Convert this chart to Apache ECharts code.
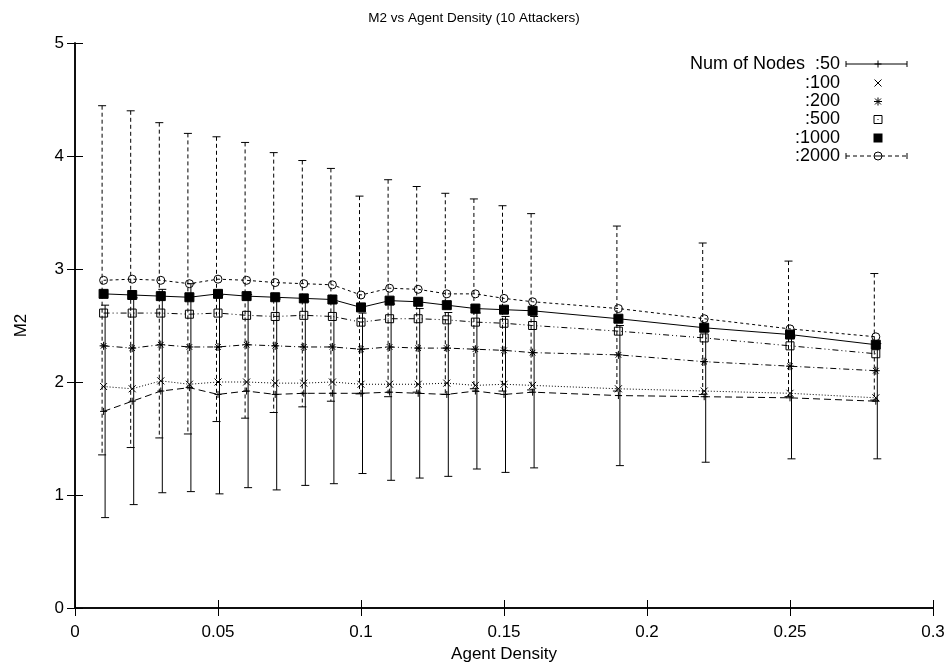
<!DOCTYPE html>
<html>
<head>
<meta charset="utf-8">
<script src="https://cdn.jsdelivr.net/npm/echarts@6/dist/echarts.min.js"></script>
<style>
html, body { margin: 0; padding: 0; background: #fff; }
#chart { width: 948px; height: 662px; }
</style>
</head>
<body>
<div id="chart"></div>
<script>
// agent density (x)
const density = [0.01, 0.02, 0.03, 0.04, 0.05, 0.06, 0.07, 0.08, 0.09, 0.10,
  0.11, 0.12, 0.13, 0.14, 0.15, 0.16, 0.19, 0.22, 0.25, 0.28]

// M2 per number of nodes
const nodes50 = [1.74, 1.83, 1.92, 1.95, 1.89, 1.92, 1.89, 1.90, 1.90, 1.90,
  1.91, 1.90, 1.89, 1.92, 1.89, 1.91, 1.88, 1.87, 1.86, 1.83]
const err50 = [0.94, 0.915, 0.90, 0.92, 0.88, 0.855, 0.845, 0.815, 0.80, 0.71,
  0.78, 0.75, 0.725, 0.69, 0.69, 0.67, 0.62, 0.58, 0.54, 0.51]
const nodes100 = [1.96, 1.94, 2.01, 1.98, 2.00, 2.00, 1.99, 1.99, 2.00, 1.98,
  1.98, 1.98, 1.99, 1.97, 1.98, 1.97, 1.94, 1.92, 1.90, 1.86]
const nodes200 = [2.32, 2.30, 2.33, 2.31, 2.31, 2.33, 2.32, 2.31, 2.31, 2.29,
  2.31, 2.30, 2.30, 2.29, 2.28, 2.26, 2.24, 2.18, 2.14, 2.10]
const nodes500 = [2.61, 2.61, 2.61, 2.60, 2.61, 2.59, 2.58, 2.59, 2.58, 2.53,
  2.56, 2.56, 2.55, 2.53, 2.52, 2.50, 2.45, 2.39, 2.32, 2.25]
const nodes1000 = [2.78, 2.77, 2.76, 2.75, 2.78, 2.76, 2.75, 2.74, 2.73, 2.66,
  2.72, 2.71, 2.68, 2.65, 2.64, 2.63, 2.56, 2.48, 2.42, 2.33]
const nodes2000 = [2.90, 2.91, 2.90, 2.87, 2.91, 2.90, 2.88, 2.87, 2.86, 2.77,
  2.83, 2.82, 2.78, 2.78, 2.74, 2.71, 2.65, 2.56, 2.47, 2.40]
const err2000 = [1.545, 1.49, 1.395, 1.33, 1.26, 1.22, 1.15, 1.09, 1.03, 0.875,
  0.96, 0.91, 0.89, 0.84, 0.82, 0.78, 0.73, 0.67, 0.60, 0.56]

const xTicks = { min: 0, max: 0.3, interval: 0.05 }
const yTicks = { min: 0, max: 5, interval: 1 }

const FONT = "'Liberation Sans', Arial, sans-serif"
const BLACK = '#000'

const chart = echarts.init(document.getElementById('chart'))

const pts = (arr) => density.map((x, i) => [x, arr[i]])
const withErr = (arr, err) => density.map((x, i) => [x, arr[i], err[i]])

// 点的形状
const PLUS = 'path://M0,5L10,5M5,0L5,10'
const CROSS = 'path://M0,0L10,10M10,0L0,10'
const STAR = 'path://M0,5L10,5M5,0L5,10M1.5,1.5L8.5,8.5M8.5,1.5L1.5,8.5'

function errBars(offset, dash) {
  return function (params, api) {
    const x = api.value(0)
    const y = api.value(1)
    const e = api.value(2)
    const hi = api.coord([x, y + e])
    const lo = api.coord([x, y - e])
    const px = hi[0] + offset
    const w = 4
    return {
      type: 'group',
      children: [
        { type: 'line', shape: { x1: px, y1: hi[1], x2: px, y2: lo[1] },
          style: { stroke: BLACK, lineWidth: 1, lineDash: dash } },
        { type: 'line', shape: { x1: px - w, y1: hi[1], x2: px + w, y2: hi[1] },
          style: { stroke: BLACK, lineWidth: 1 } },
        { type: 'line', shape: { x1: px - w, y1: lo[1], x2: px + w, y2: lo[1] },
          style: { stroke: BLACK, lineWidth: 1 } }
      ]
    }
  }
}

function lineSeries(name, data, dash, symbol, size, fill) {
  return {
    name,
    type: 'line',
    data: pts(data),
    symbol,
    symbolSize: size,
    showAllSymbol: true,
    lineStyle: { color: BLACK, width: 1, type: dash },
    itemStyle: { color: fill, borderColor: BLACK, borderWidth: 1 },
    emphasis: { disabled: true },
    z: 3
  }
}

const axisLine = { show: true, lineStyle: { color: BLACK, width: 1.5 } }
const axisTick = { show: true, inside: true, length: 8, lineStyle: { color: BLACK, width: 1 } }

// legend (gnuplot style, inside top right)
const legendX = 840
const sampleX = 878
const legendRows = [64, 83, 101.5, 119.5, 138, 156]
const legendText = ['Num of Nodes  :50', ':100', ':200', ':500', ':1000', ':2000']
const legend = legendText.map((t, i) => ({
  type: 'text',
  x: legendX,
  y: legendRows[i],
  style: { text: t, font: '18px ' + FONT, fill: BLACK, align: 'right', verticalAlign: 'middle' }
}))
const ls = { stroke: BLACK, lineWidth: 1 }
legend.push(
  { type: 'line', shape: { x1: 846, y1: legendRows[0], x2: 907, y2: legendRows[0] }, style: ls },
  { type: 'line', shape: { x1: 846, y1: legendRows[0] - 3, x2: 846, y2: legendRows[0] + 3 }, style: ls },
  { type: 'line', shape: { x1: 907, y1: legendRows[0] - 3, x2: 907, y2: legendRows[0] + 3 }, style: ls },
  { type: 'line', shape: { x1: sampleX - 3.5, y1: legendRows[0], x2: sampleX + 3.5, y2: legendRows[0] }, style: ls },
  { type: 'line', shape: { x1: sampleX, y1: legendRows[0] - 3.5, x2: sampleX, y2: legendRows[0] + 3.5 }, style: ls },
  { type: 'line', shape: { x1: sampleX - 3.5, y1: legendRows[1] - 3.5, x2: sampleX + 3.5, y2: legendRows[1] + 3.5 }, style: ls },
  { type: 'line', shape: { x1: sampleX + 3.5, y1: legendRows[1] - 3.5, x2: sampleX - 3.5, y2: legendRows[1] + 3.5 }, style: ls },
  { type: 'line', shape: { x1: sampleX - 4, y1: legendRows[2], x2: sampleX + 4, y2: legendRows[2] }, style: ls },
  { type: 'line', shape: { x1: sampleX, y1: legendRows[2] - 4, x2: sampleX, y2: legendRows[2] + 4 }, style: ls },
  { type: 'line', shape: { x1: sampleX - 3, y1: legendRows[2] - 3, x2: sampleX + 3, y2: legendRows[2] + 3 }, style: ls },
  { type: 'line', shape: { x1: sampleX + 3, y1: legendRows[2] - 3, x2: sampleX - 3, y2: legendRows[2] + 3 }, style: ls },
  { type: 'rect', shape: { x: sampleX - 4, y: legendRows[3] - 4, width: 8, height: 8 }, style: { stroke: BLACK, fill: 'none', lineWidth: 1 } },
  { type: 'rect', shape: { x: sampleX - 0.5, y: legendRows[3] - 0.5, width: 1, height: 1 }, style: { fill: BLACK } },
  { type: 'rect', shape: { x: sampleX - 4.5, y: legendRows[4] - 4.5, width: 9, height: 9 }, style: { fill: BLACK } },
  { type: 'line', shape: { x1: 846, y1: legendRows[5], x2: 907, y2: legendRows[5] }, style: { stroke: BLACK, lineWidth: 1, lineDash: [4, 3] } },
  { type: 'line', shape: { x1: 846, y1: legendRows[5] - 3, x2: 846, y2: legendRows[5] + 3 }, style: ls },
  { type: 'line', shape: { x1: 907, y1: legendRows[5] - 3, x2: 907, y2: legendRows[5] + 3 }, style: ls },
  { type: 'circle', shape: { cx: sampleX, cy: legendRows[5], r: 4 }, style: { stroke: BLACK, fill: '#fff', lineWidth: 1 } },
  { type: 'line', shape: { x1: sampleX - 4, y1: legendRows[5], x2: sampleX + 4, y2: legendRows[5] }, style: ls }
)

const option = {
  backgroundColor: '#fff',
  animation: false,
  textStyle: { fontFamily: FONT },
  title: {
    text: 'M2 vs Agent Density (10 Attackers)',
    left: 'center',
    top: 6,
    textStyle: { fontSize: 13.5, fontWeight: 'normal', color: BLACK, fontFamily: FONT }
  },
  grid: { left: 75, right: 15, top: 43, bottom: 54, outerBoundsMode: 'none' },
  xAxis: [
    {
      type: 'value', position: 'bottom', ...xTicks,
      name: 'Agent Density', nameLocation: 'middle', nameGap: 35,
      nameTextStyle: { fontSize: 17, color: BLACK, fontFamily: FONT },
      axisLine, axisTick,
      axisLabel: { color: BLACK, fontSize: 17, margin: 16, fontFamily: FONT },
      splitLine: { show: false }
    },
    {
      type: 'value', position: 'top', ...xTicks,
      axisLine, axisTick, axisLabel: { show: false }, splitLine: { show: false }
    }
  ],
  yAxis: [
    {
      type: 'value', position: 'left', ...yTicks,
      name: 'M2', nameLocation: 'middle', nameGap: 45, nameRotate: 90,
      nameTextStyle: { fontSize: 17, color: BLACK, fontFamily: FONT },
      axisLine, axisTick,
      axisLabel: { color: BLACK, fontSize: 17, margin: 11, fontFamily: FONT },
      splitLine: { show: false }
    },
    {
      type: 'value', position: 'right', ...yTicks,
      axisLine, axisTick, axisLabel: { show: false }, splitLine: { show: false }
    }
  ],
  series: [
    {
      name: 'err50', type: 'custom', renderItem: errBars(1.5, null),
      data: withErr(nodes50, err50), encode: { x: 0, y: 1 }, z: 2, silent: true
    },
    {
      name: 'err2000', type: 'custom', renderItem: errBars(-1.5, [4, 3]),
      data: withErr(nodes2000, err2000), encode: { x: 0, y: 1 }, z: 2, silent: true
    },
    lineSeries(':50', nodes50, [7, 4], PLUS, 7, 'none'),
    lineSeries(':100', nodes100, [1, 2], CROSS, 7, 'none'),
    lineSeries(':200', nodes200, [6, 3, 1, 3], STAR, 8, 'none'),
    lineSeries(':500', nodes500, [6, 3, 1, 3, 1, 3], 'rect', 8, 'none'),
    lineSeries(':1000', nodes1000, 'solid', 'rect', 9, BLACK),
    lineSeries(':2000', nodes2000, [3, 3], 'circle', 8, 'none')
  ],
  graphic: legend
}

chart.setOption(option)
</script>
</body>
</html>
